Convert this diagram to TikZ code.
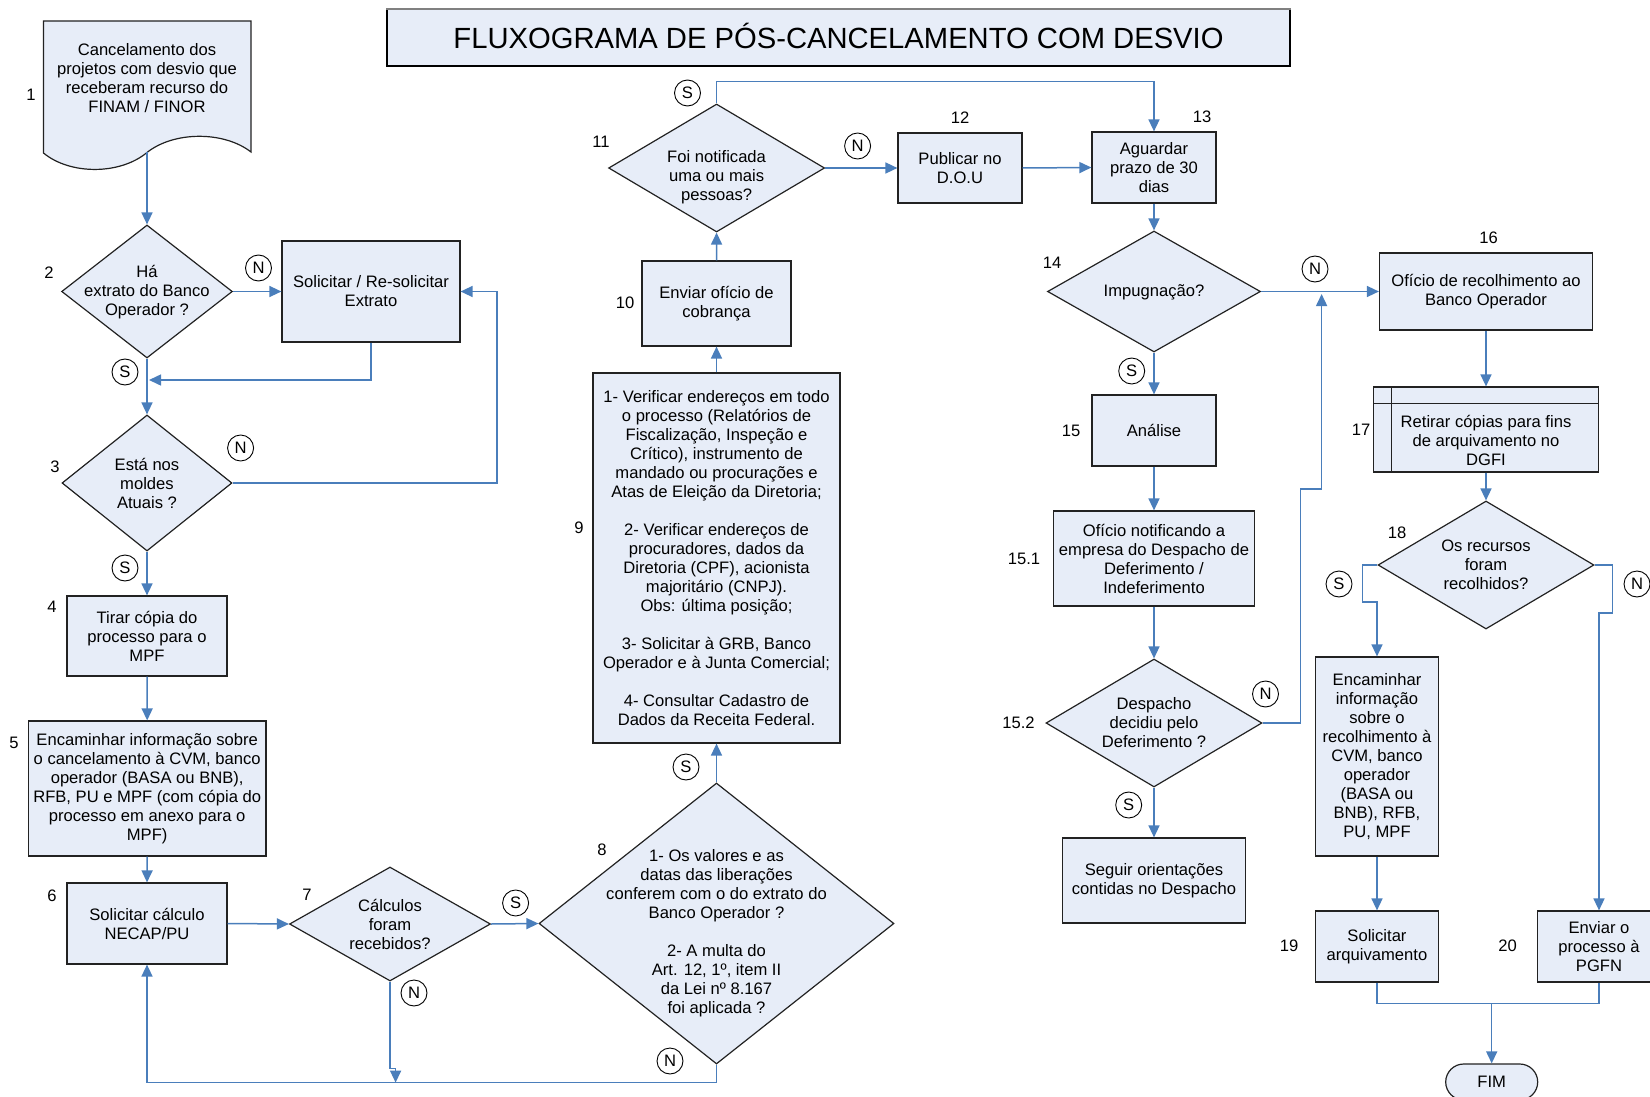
\documentclass[tikz,border=0pt]{standalone}
\usepackage{fontspec}
\setmainfont{Liberation Sans}
\usetikzlibrary{arrows.meta,shapes.geometric}
\definecolor{fillc}{HTML}{E7EDF8}
\definecolor{linec}{HTML}{4A7EBB}
\definecolor{bordc}{HTML}{222222}
\newcommand\bodyf{\fontsize{8.3}{9.5}\selectfont}
\begin{document}
\begin{tikzpicture}[x=0.5pt,y=-0.5pt,
  box/.style={draw=bordc, fill=fillc, line width=0.6pt, align=center, inner sep=1pt, font=\bodyf},
  dia/.style={draw=bordc, fill=fillc, line width=0.6pt, diamond, inner sep=0pt},
  txt/.style={align=center, font=\bodyf, inner sep=0pt},
  num/.style={font=\bodyf, inner sep=0pt},
  yn/.style={circle, draw=black, line width=0.45pt, minimum size=13pt, inner sep=0pt, font=\bodyf},
  arr/.style={draw=linec, line width=0.75pt, -{Triangle[length=6pt,width=5.5pt]}},
  ln/.style={draw=linec, line width=0.75pt}]
\useasboundingbox (0,0) rectangle (1650,1097);

% title
\node[box, draw=black, minimum width=451.5pt, minimum height=28.3pt, text height=10.45pt, text depth=0pt, font=\fontsize{14.6}{17}\selectfont] (title) at (838.5,37.7) {FLUXOGRAMA DE PÓS-CANCELAMENTO COM DESVIO};
\draw[gray, line width=1pt] (title.north west) -- (title.north east);

% node 1 (document)
\path[draw=bordc, fill=fillc, line width=0.6pt] (43.5,21) -- (251,21) -- (251,152) .. controls (224,131) and (174,131) .. (147,152.5) .. controls (120,175) and (70,175) .. (43.5,153) -- cycle;
\node[txt] (n1) at (147,78) {Cancelamento dos\\projetos com desvio que\\receberam recurso do\\FINAM / FINOR};
\coordinate (n1b) at (147,152.5);

% left column
\node[dia, minimum width=85.4pt, minimum height=66.5pt] (d2) at (147,291.5) {};
\node[txt] (d2t) at (147,292) {Há\\extrato do Banco\\Operador ?};
\node[box, minimum width=89pt, minimum height=50.5pt] (b2) at (371,291.5) {Solicitar / Re-solicitar\\Extrato};
\node[dia, minimum width=85pt, minimum height=68pt] (d3) at (147,483) {};
\node[txt] (d3t) at (147,483) {Está nos\\moldes\\Atuais ?};
\node[box, minimum width=80pt, minimum height=40pt] (b4) at (147,636) {Tirar cópia do\\processo para o\\MPF};
\node[box, minimum width=118.8pt, minimum height=67.5pt] (b5) at (147.2,788.5) {Encaminhar informação sobre\\o cancelamento à CVM, banco\\operador (BASA ou BNB),\\RFB, PU e MPF (com cópia do\\processo em anexo para o\\MPF)};
\node[box, minimum width=80pt, minimum height=40.5pt] (b6) at (147,923.5) {Solicitar cálculo\\NECAP/PU};
\node[dia, minimum width=100.5pt, minimum height=57pt] (d7) at (390,924) {};
\node[txt] (d7t) at (390,924) {Cálculos\\foram\\recebidos?};

% middle column
\node[dia, minimum width=177.5pt, minimum height=140.5pt] (d8) at (716.5,923.5) {};
\node[txt] (d8t) at (716.5,933) {1- Os valores e as\\datas das liberações\\conferem com o do extrato do\\Banco Operador ?\\[9.5pt]2- A multa do\\Art. 12, 1º, item II\\da Lei nº 8.167\\foi aplicada ?};
\node[box, minimum width=123.5pt, minimum height=185pt] (b9) at (716.5,558) {1- Verificar endereços em todo\\o processo (Relatórios de\\Fiscalização, Inspeção e\\Crítico), instrumento de\\mandado ou procurações e\\Atas de Eleição da Diretoria;\\[9.5pt]2- Verificar endereços de\\procuradores, dados da\\Diretoria (CPF), acionista\\majoritário (CNPJ).\\Obs: última posição;\\[9.5pt]3- Solicitar à GRB, Banco\\Operador e à Junta Comercial;\\[9.5pt]4- Consultar Cadastro de\\Dados da Receita Federal.};
\node[box, minimum width=74.5pt, minimum height=42.5pt] (b10) at (716.5,303.5) {Enviar ofício de\\cobrança};
\node[dia, minimum width=108pt, minimum height=64pt] (d11) at (716.6,168) {};
\node[txt] (d11t) at (716.6,177) {Foi notificada\\uma ou mais\\pessoas?};
\node[box, minimum width=62pt, minimum height=35pt] (b12) at (960,168) {Publicar no\\D.O.U};

% right-middle column
\node[box, minimum width=62pt, minimum height=35.5pt] (b13) at (1154,167.5) {Aguardar\\prazo de 30\\dias};
\node[dia, minimum width=106.5pt, minimum height=60.5pt] (d14) at (1154,291.5) {};
\node[txt] (d14t) at (1154,292) {Impugnação?};
\node[box, minimum width=62pt, minimum height=35.5pt] (b15) at (1154,430.5) {Análise};
\node[box, minimum width=100.75pt, minimum height=47.5pt] (b151) at (1154,558.5) {Ofício notificando a\\empresa do Despacho de\\Deferimento /\\Indeferimento};
\node[dia, minimum width=108pt, minimum height=64pt] (d152) at (1154,723) {};
\node[txt] (d152t) at (1154,723) {Despacho\\decidiu pelo\\Deferimento ?};
\node[box, minimum width=91.75pt, minimum height=42.5pt] (b153) at (1154,880.5) {Seguir orientações\\contidas no Despacho};

% right column
\node[box, minimum width=106.5pt, minimum height=38.5pt] (b16) at (1486,291.5) {Ofício de recolhimento ao\\Banco Operador};
\node[box, minimum width=112.2pt, minimum height=42.5pt] (b17) at (1486,429.5) {};
\draw[draw=bordc, line width=0.6pt] ([yshift=-8.5pt]b17.north west) -- ([yshift=-8.5pt]b17.north east);
\draw[draw=bordc, line width=0.6pt] ([xshift=9pt]b17.north west) -- ([xshift=9pt]b17.south west);
\node[txt] (b17t) at (1486,440) {Retirar cópias para fins\\de arquivamento no\\DGFI};
\node[dia, minimum width=108pt, minimum height=64pt] (d18) at (1486,565) {};
\node[txt] (d18t) at (1486,565) {Os recursos\\foram\\recolhidos?};
\node[box, minimum width=61.25pt, minimum height=99.5pt] (b18) at (1377,756.5) {Encaminhar\\informação\\sobre o\\recolhimento à\\CVM, banco\\operador\\(BASA ou\\BNB), RFB,\\PU, MPF};
\node[box, minimum width=61.65pt, minimum height=35.5pt] (b19) at (1377,946.5) {Solicitar\\arquivamento};
\node[box, minimum width=61.5pt, minimum height=35.5pt] (b20) at (1599,946.5) {Enviar o\\processo à\\PGFN};
\node[box, rounded corners=9pt, minimum width=46pt, minimum height=18pt] (fim) at (1491.7,1082) {FIM};

% step numbers
\node[num] (l1) at (31,95) {1};
\node[num] (l2) at (49,273) {2};
\node[num] (l3) at (55,467) {3};
\node[num] (l4) at (52,607) {4};
\node[num] (l5) at (14,743) {5};
\node[num] (l6) at (52,896) {6};
\node[num] (l7) at (307,895) {7};
\node[num] (l8) at (602,850) {8};
\node[num] (l9) at (579,528) {9};
\node[num] (l10) at (625,303) {10};
\node[num] (l11) at (601,142) {11};
\node[num] (l12) at (960,118) {12};
\node[num] (l13) at (1202,117) {13};
\node[num] (l14) at (1052,263) {14};
\node[num] (l15) at (1071,431) {15};
\node[num] (l151) at (1024,559) {15.1};
\node[num] (l152) at (1018.5,723) {15.2};
\node[num] (l16) at (1488.5,238) {16};
\node[num] (l17) at (1361,430) {17};
\node[num] (l18) at (1397,533) {18};
\node[num] (l19) at (1289,946) {19};
\node[num] (l20) at (1507.7,946) {20};

% S / N markers
\node[yn] (s2) at (125,372) {S};
\node[yn] (s3) at (125,568) {S};
\node[yn] (s7) at (515.6,903) {S};
\node[yn] (s8) at (686,767) {S};
\node[yn] (s11) at (687.5,93) {S};
\node[yn] (s14) at (1131.7,371) {S};
\node[yn] (s152) at (1128.7,805) {S};
\node[yn] (s18) at (1339,584) {S};
\node[yn] (n2) at (258.5,268) {N};
\node[yn] (n3) at (240.6,448) {N};
\node[yn] (n7) at (414,993) {N};
\node[yn] (n8) at (670,1061) {N};
\node[yn] (n11) at (857.6,146) {N};
\node[yn] (n14) at (1315,269) {N};
\node[yn] (n152) at (1265.5,694) {N};
\node[yn] (n18) at (1637,584) {N};

% connectors
\coordinate (m2) at (149,380);
\draw[arr] (n1b) -- (d2.north);
\draw[arr] (d2.east) -- (b2.west);
\draw[arr] (b2.south) |- (m2);
\draw[arr] (d2.south) -- (d3.north);
\draw[arr] (d3.east) -- (497,483) |- (b2.east);
\draw[arr] (d3.south) -- (b4.north);
\draw[arr] (b4.south) -- (b5.north);
\draw[arr] (b5.south) -- (b6.north);
\draw[arr] (b6.east) -- (d7.west);
\draw[arr] (d7.east) -- (d8.west);
\draw[arr] (d7.south) -- ++(0,87) -- ++(5.6,0) -- ++(0,14);
\draw[arr] (d8.south) -- ++(0,18) -| (b6.south);
\draw[arr] (d8.north) -- (b9.south);
\draw[arr] (b9.north) -- (b10.south);
\draw[arr] (b10.north) -- (d11.south);
\draw[arr] (d11.north) -- ++(0,-22) -| (b13.north);
\draw[arr] (d11.east) -- (b12.west);
\draw[arr] (b12.east) -- (b13.west);
\draw[arr] (b13.south) -- (d14.north);
\draw[arr] (d14.east) -- (b16.west);
\draw[arr] (d14.south) -- (b15.north);
\draw[arr] (b15.south) -- (b151.north);
\draw[arr] (b151.south) -- (d152.north);
\draw[arr] (d152.east) -- ++(38,0) -- ++(0,-234) -- ++(21,0) -- ++(0,-195);
\draw[arr] (d152.south) -- (b153.north);
\draw[arr] (b16.south) -- (b17.north);
\draw[arr] (b17.south) -- (d18.north);
\draw[arr] (d18.west) -- ++(-15,0) -- ++(0,37) -| (b18.north);
\draw[arr] (d18.east) -- ++(18,0) -- ++(0,48) -| (b20.north);
\draw[arr] (b18.south) -- (b19.north);
\coordinate (mj) at (1491.7,1003);
\draw[ln] (b19.south) -- ++(0,21) -| (b20.south);
\draw[arr] (mj) -- (fim.north);
\end{tikzpicture}
\end{document}
